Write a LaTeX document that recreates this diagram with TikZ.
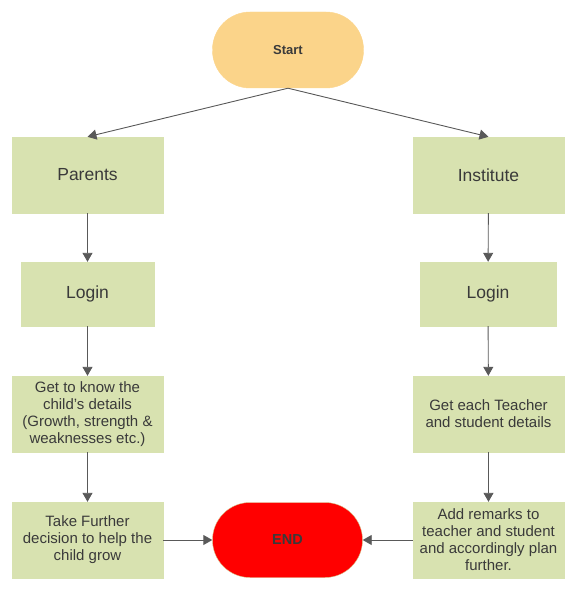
\documentclass[tikz,border=0pt]{standalone}
\usepackage{fontspec}
\setmainfont{Liberation Sans}
\usetikzlibrary{arrows.meta}
\definecolor{boxgreen}{HTML}{D8E2B0}
\definecolor{startfill}{HTML}{FBD48A}
\definecolor{endborder}{HTML}{D6C48A}
\definecolor{linegray}{HTML}{595959}
\definecolor{txt}{HTML}{3A3A3A}
\tikzset{
  greenbox/.style={fill=boxgreen, draw=boxgreen, inner sep=0pt, align=center, text=txt,
    minimum width=151pt, minimum height=76pt},
  bigtxt/.style={font=\fontsize{17.5}{20}\selectfont},
  smalltxt/.style={font=\fontsize{15}{17}\selectfont},
  terminal/.style={rounded corners=37.5pt, inner sep=0pt, align=center, text=txt,
    minimum width=151pt, minimum height=76pt},
  conn/.style={draw=linegray, line width=0.9pt, -{Triangle[width=10pt,length=9pt]}, color=linegray}
}
\begin{document}
\begin{tikzpicture}[x=1pt,y=-1pt]
\useasboundingbox (0,0) rectangle (576,591);
\node[terminal, fill=startfill, draw=startfill, font=\fontsize{13}{15}\selectfont\bfseries] (start) at (288,50) {Start};
\node[greenbox, bigtxt] (parents) at (87.5,175) {Parents};
\node[greenbox, bigtxt] (inst) at (488.5,175) {Institute};
\node[greenbox, bigtxt, minimum width=133pt, minimum height=64pt] (loginl) at (87.5,294) {Login};
\node[greenbox, bigtxt, minimum width=136pt, minimum height=64pt] (loginr) at (488,294) {Login};
\node[greenbox, smalltxt] (know) at (87.5,414) {Get to know the\\child's details\\(Growth, strength \&\\weaknesses etc.)};
\node[greenbox, smalltxt] (each) at (488.5,414) {Get each Teacher\\and student details};
\node[greenbox, smalltxt] (take) at (87.5,540) {Take Further\\decision to help the\\child grow};
\node[terminal, fill=red, draw=endborder, font=\fontsize{14.5}{17}\selectfont\bfseries, minimum width=150pt, minimum height=75pt] (end) at (287.5,540) {END};
\node[greenbox, smalltxt] (add) at (488.5,540) {Add remarks to\\teacher and student\\and accordingly plan\\further.};
\draw[conn] (start.south) -- (parents.north);
\draw[conn] (start.south) -- (inst.north);
\draw[conn] (parents) -- (loginl);
\draw[conn] (loginl) -- (know);
\draw[conn] (know) -- (take);
\draw[conn] (inst) -- (loginr);
\draw[conn] (loginr) -- (each);
\draw[conn] (each) -- (add);
\draw[conn] (take) -- (end);
\draw[conn] (add) -- (end);
\end{tikzpicture}
\end{document}
